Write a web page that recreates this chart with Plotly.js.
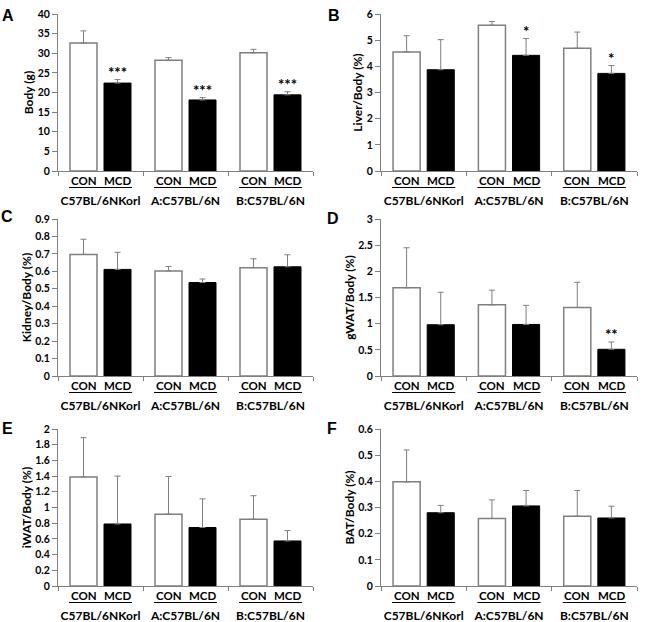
<!DOCTYPE html>
<html>
<head>
<meta charset="utf-8">
<script src="https://cdn.plot.ly/plotly-3.0.1.min.js"></script>
<style>
  html, body { margin: 0; padding: 0; background: #ffffff; }
  #chart { width: 647px; height: 622px; }
</style>
</head>
<body>
<div id="chart"></div>
<script>
// Mouse strains and diet groups
const groups = ['C57BL/6NKorl', 'A:C57BL/6N', 'B:C57BL/6N'];
const conditions = ['CON', 'MCD'];

// A: body weight (g), mean and upper SD
const bodyCON = [32.6, 28.2, 30.1];
const bodyCONErr = [3.1, 0.7, 0.9];
const bodyMCD = [22.4, 18.1, 19.4];
const bodyMCDErr = [0.9, 0.6, 0.8];
const bodySig = ['***', '***', '***'];

// B: liver / body (%)
const liverCON = [4.55, 5.57, 4.69];
const liverCONErr = [0.62, 0.14, 0.62];
const liverMCD = [3.87, 4.42, 3.73];
const liverMCDErr = [1.15, 0.64, 0.30];
const liverSig = ['', '*', '*'];

// C: kidney / body (%)
const kidneyCON = [0.697, 0.602, 0.621];
const kidneyCONErr = [0.087, 0.026, 0.051];
const kidneyMCD = [0.611, 0.536, 0.626];
const kidneyMCDErr = [0.098, 0.020, 0.069];
const kidneySig = ['', '', ''];

// D: gonadal WAT / body (%)
const gwatCON = [1.685, 1.36, 1.31];
const gwatCONErr = [0.765, 0.28, 0.48];
const gwatMCD = [0.98, 0.985, 0.51];
const gwatMCDErr = [0.62, 0.365, 0.14];
const gwatSig = ['', '', '**'];

// E: inguinal WAT / body (%)
const iwatCON = [1.39, 0.915, 0.85];
const iwatCONErr = [0.50, 0.48, 0.30];
const iwatMCD = [0.79, 0.745, 0.574];
const iwatMCDErr = [0.61, 0.365, 0.132];
const iwatSig = ['', '', ''];

// F: brown adipose tissue / body (%)
const batCON = [0.398, 0.258, 0.267];
const batCONErr = [0.122, 0.071, 0.098];
const batMCD = [0.28, 0.306, 0.26];
const batMCDErr = [0.028, 0.059, 0.045];
const batSig = ['', '', ''];

// Panel letters, y-axis titles and y scales
const panelLetters = ['A', 'B', 'C', 'D', 'E', 'F'];
const yTitles = ['Body (g)', 'Liver/Body (%)', 'Kidney/Body (%)', 'gWAT/Body (%)', 'iWAT/Body (%)', 'BAT/Body (%)'];
const yMax = [40, 6, 0.9, 3, 2, 0.6];
const yStep = [5, 1, 0.1, 0.5, 0.2, 0.1];

const panelData = [
  [bodyCON, bodyCONErr, bodyMCD, bodyMCDErr, bodySig],
  [liverCON, liverCONErr, liverMCD, liverMCDErr, liverSig],
  [kidneyCON, kidneyCONErr, kidneyMCD, kidneyMCDErr, kidneySig],
  [gwatCON, gwatCONErr, gwatMCD, gwatMCDErr, gwatSig],
  [iwatCON, iwatCONErr, iwatMCD, iwatMCDErr, iwatSig],
  [batCON, batCONErr, batMCD, batMCDErr, batSig]
];

// ---- page geometry (pixels) ----
const W = 647, H = 622;
const colX = [[58, 313], [381, 637]];
const rowY = [[14, 171], [219, 376], [429, 586]];
const letterPos = [[8, 16], [334, 16], [7, 217], [333, 219], [7, 428], [332, 428]];
const py = p => 1 - p / H;
const px = p => p / W;

const GRAY = '#7f7f7f';
const FONT = 'Lato, "Open Sans", sans-serif';
const bargap = 0.2;
const slotOffset = (1 - bargap) / 4;

const traces = [];
const annotations = [];
const shapes = [];
const layout = {
  width: W, height: H,
  margin: {l: 0, r: 0, t: 0, b: 0},
  paper_bgcolor: '#ffffff',
  plot_bgcolor: '#ffffff',
  showlegend: false,
  barmode: 'group',
  bargap: bargap,
  bargroupgap: 0.206,
  font: {family: FONT, color: '#000000'}
};

panelData.forEach((d, k) => {
  const [con, conErr, mcd, mcdErr, sig] = d;
  const col = k % 2, row = Math.floor(k / 2);
  const n = k + 1;
  const xa = n === 1 ? 'x' : 'x' + n;
  const ya = n === 1 ? 'y' : 'y' + n;
  const xKey = n === 1 ? 'xaxis' : 'xaxis' + n;
  const yKey = n === 1 ? 'yaxis' : 'yaxis' + n;
  const [top, bottom] = rowY[row];

  const zeros = con.map(() => 0);
  traces.push({
    type: 'bar', name: conditions[0], x: groups, y: con,
    xaxis: xa, yaxis: ya,
    marker: {color: '#ffffff', line: {color: GRAY, width: 1.5}},
    error_y: {type: 'data', symmetric: false, array: conErr, arrayminus: zeros,
              color: GRAY, thickness: 1, width: 3}
  });
  traces.push({
    type: 'bar', name: conditions[1], x: groups, y: mcd,
    xaxis: xa, yaxis: ya,
    marker: {color: '#000000', line: {color: '#000000', width: 1}},
    error_y: {type: 'data', symmetric: false, array: mcdErr, arrayminus: zeros,
              color: GRAY, thickness: 1, width: 3}
  });

  layout[xKey] = {
    domain: [px(colX[col][0]), px(colX[col][1])],
    anchor: ya,
    type: 'category',
    range: [-0.5, groups.length - 0.5],
    showline: true, linecolor: GRAY, linewidth: 1,
    ticks: 'outside', tickson: 'boundaries', ticklen: 4, tickcolor: GRAY,
    tickangle: 0,
    ticklabelstandoff: 19,
    tickfont: {family: FONT, size: 12, weight: 700, color: '#000000'},
    showgrid: false, zeroline: false, fixedrange: true
  };
  layout[yKey] = {
    domain: [py(bottom), py(top)],
    anchor: xa,
    range: [0, yMax[k]],
    dtick: yStep[k], tick0: 0,
    showline: true, linecolor: GRAY, linewidth: 1,
    ticks: 'outside', ticklen: 5, tickcolor: GRAY,
    tickfont: {family: FONT, size: 10.5, weight: 700, color: '#000000'},
    title: {text: yTitles[k], font: {family: FONT, size: 12, weight: 700, color: '#000000'}, standoff: 1},
    showgrid: false, zeroline: false, fixedrange: true
  };

  // condition labels under each bar, with a rule beneath each strain pair
  groups.forEach((g, i) => {
    conditions.forEach((c, j) => {
      annotations.push({
        xref: xa, yref: 'paper',
        x: i + (j === 0 ? -slotOffset : slotOffset), y: py(bottom + 9),
        text: c, showarrow: false, xanchor: 'center', yanchor: 'middle',
        font: {family: FONT, size: 11.5, weight: 700, color: '#000000'}
      });
    });
    shapes.push({
      type: 'line', xref: xa, yref: 'paper',
      x0: i - 0.37, x1: i + 0.37, y0: py(bottom + 16.5), y1: py(bottom + 16.5),
      line: {color: '#000000', width: 1}
    });
    if (sig[i]) {
      annotations.push({
        xref: xa, yref: ya,
        x: i + slotOffset, y: mcd[i] + mcdErr[i],
        text: sig[i], showarrow: false, xanchor: 'center', yanchor: 'bottom',
        yshift: -3,
        font: {family: FONT, size: 15, weight: 700, color: '#000000'}
      });
    }
  });

  annotations.push({
    xref: 'paper', yref: 'paper',
    x: px(letterPos[k][0]), y: py(letterPos[k][1]),
    text: panelLetters[k], showarrow: false, xanchor: 'center', yanchor: 'middle',
    font: {family: '"Liberation Sans", Arial, sans-serif', size: 16, weight: 700, color: '#000000'}
  });
});

layout.annotations = annotations;
layout.shapes = shapes;

Plotly.newPlot('chart', traces, layout, {staticPlot: true, displayModeBar: false});
</script>
</body>
</html>
